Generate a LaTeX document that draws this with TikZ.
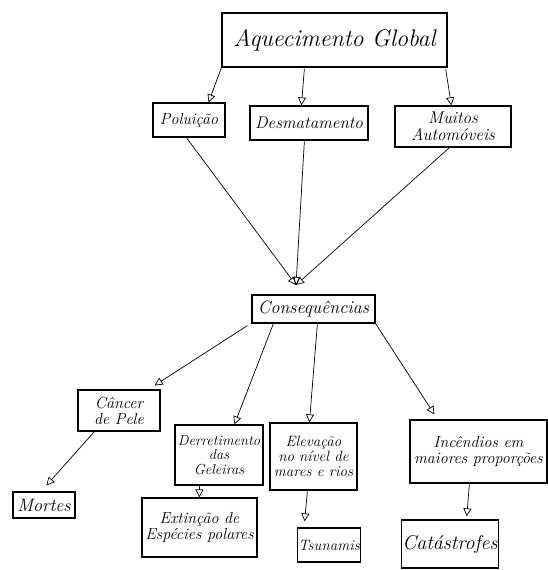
\documentclass[tikz,border=0pt]{standalone}
\usetikzlibrary{arrows.meta,calc}
\newcommand{\fsz}[1]{\itshape\fontsize{#1}{#1}\selectfont}
\begin{document}
\begin{tikzpicture}[x=1pt,y=-1pt,
  box/.style={draw,line width=1.2pt,rectangle,inner sep=1pt,align=center,font=\fsz{15}},
  conn/.style={line width=0.7pt,-{Triangle[open,length=8pt,width=8pt]}}]
\useasboundingbox (0,0) rectangle (548,570);
\node[box,minimum width=225,minimum height=54,font=\fsz{24}] (ag) at (334.5,40) {Aquecimento Global};
\node[box,minimum width=72,minimum height=34,font=\fsz{16}] (pol) at (189,120) {Poluição};
\node[box,minimum width=118,minimum height=34,font=\fsz{17}] (des) at (309,123) {Desmatamento};
\node[box,minimum width=116,minimum height=41,font=\fsz{17}] (mui) at (453,126.5) {Muitos\\Automóveis};
\node[box,minimum width=123,minimum height=28,font=\fsz{18}] (con) at (313.5,309) {Consequências};
\node[box,minimum width=82,minimum height=41,font=\fsz{16}] (can) at (119,410.5) {Câncer\\de Pele};
\node[box,minimum width=88,minimum height=60,font=\fsz{14.5}] (der) at (219,455) {Derretimento\\das\\Geleiras};
\node[box,minimum width=87,minimum height=67,font=\fsz{15}] (ele) at (313.5,456.5) {Elevação\\no nível de\\mares e rios};
\node[box,minimum width=137,minimum height=63,font=\fsz{16}] (inc) at (478.5,451.5) {Incêndios em\\maiores proporções};
\node[box,minimum width=62,minimum height=26,font=\fsz{18}] (mor) at (44,505) {Mortes};
\node[box,minimum width=115,minimum height=59,font=\fsz{16}] (ext) at (199.5,527.5) {Extinção de\\Espécies polares};
\node[box,minimum width=58,minimum height=34,font=\fsz{15}] (tsu) at (329,545) {Tsunamis};
\node[box,minimum width=96,minimum height=48,font=\fsz{20}] (cat) at (450,544) {Catástrofes};
\coordinate (meet) at (296,285);
% top level
\draw[conn] (ag.south west) -- ($(pol.north east)+(-17,0)$);
\draw[conn] ($(ag.south west)+(83,1)$) -- ($(des.north west)+(52,0)$);
\draw[conn] ($(ag.south east)+(-2,1)$) -- ($(mui.north west)+(57,0)$);
% converge
\draw[conn] ($(pol.south west)+(34,0)$) -- (meet);
\draw[conn] ($(des.south west)+(55,0)$) -- (meet);
\draw[conn] ($(mui.south west)+(55,0)$) -- (meet);
% consequences
\draw[conn] ($(con.south west)+(-4,2)$) -- ($(can.north east)+(-6,-4)$);
\draw[conn] ($(con.south west)+(22,0)$) -- ($(der.north west)+(60,0)$);
\draw[conn] ($(con.south west)+(66,0)$) -- ($(ele.north west)+(40,0)$);
\draw[conn] (con.south east) -- ($(inc.north west)+(25,-5)$);
% lower
\draw[conn] ($(can.south west)+(17,0)$) -- ($(mor.north west)+(34,-6)$);
\draw[conn] ($(der.south west)+(25,0)$) -- ($(ext.north west)+(58,0)$);
\draw[conn] ($(ele.south west)+(38,0)$) -- ($(tsu.north west)+(8,-6)$);
\draw[conn] ($(inc.south west)+(60,0)$) -- ($(cat.north west)+(66,-3)$);
\end{tikzpicture}
\end{document}
